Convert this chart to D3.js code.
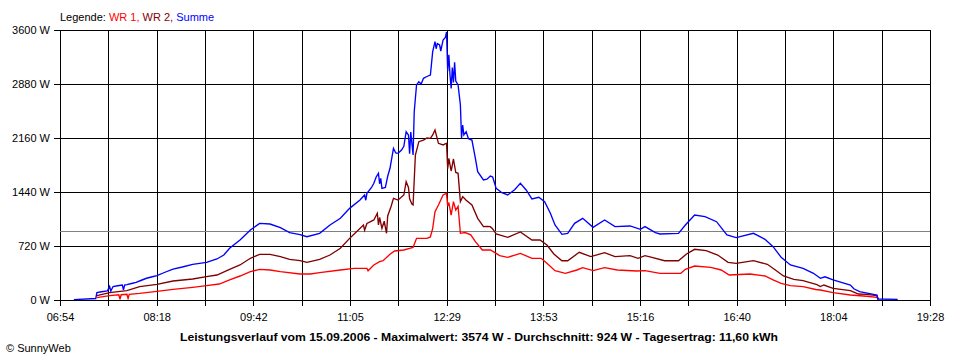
<!DOCTYPE html>
<html><head><meta charset="utf-8">
<script src="https://cdn.jsdelivr.net/npm/d3@7"></script>
<style>
body{margin:0;background:#fff}
svg{display:block}
text{font-family:"Liberation Sans",Arial,sans-serif;font-size:11px;fill:#000}
</style>
</head><body>
<svg id="c" width="960" height="360"></svg>
<script>
const startTime = "06:54", endTime = "19:28";
const xTickLabels = ["06:54","08:18","09:42","11:05","12:29","13:53","15:16","16:40","18:04","19:28"];
const yTickValues = [0, 720, 1440, 2160, 2880, 3600];
const average = 924;
const legendItems = ["WR 1", "WR 2", "Summe"];
const titleText = "Leistungsverlauf vom 15.09.2006 - Maximalwert: 3574 W - Durchschnitt: 924 W - Tagesertrag: 11,60 kWh";
const footerText = "© SunnyWeb";

const summe = [
 ["07:06",5],["07:25",20],["07:26",100],["07:30",110],["07:35",120],["07:37",180],["07:38",120],["07:40",180],
 ["07:44",190],["07:48",200],["07:49",135],["07:50",200],["07:52",205],["07:56",220],["08:00",235],["08:04",260],
 ["08:09",290],["08:14",310],["08:18",325],["08:25",370],["08:32",413],["08:40",440],["08:49",475],["09:01",502],
 ["09:10",547],["09:16",600],["09:21",689],["09:30",800],["09:39",933],["09:47",1022],["09:56",1013],["10:05",964],
 ["10:13",898],["10:22",871],["10:28",844],["10:39",889],["10:48",1000],["10:57",1089],["11:05",1222],["11:14",1333],
 ["11:18",1400],["11:19",1330],["11:20",1422],["11:24",1500],["11:26",1556],["11:28",1640],["11:30",1689],["11:31",1550],
 ["11:32",1622],["11:33",1489],["11:36",1500],["11:38",1650],["11:40",1756],["11:43",2022],["11:45",1960],["11:47",1956],
 ["11:50",2000],["11:52",2050],["11:54",2244],["11:56",2200],["11:57",1950],["11:58",2240],["12:00",1933],["12:01",2511],
 ["12:03",2867],["12:05",2911],["12:07",2880],["12:09",2956],["12:12",2980],["12:15",3000],["12:17",3311],["12:19",3444],
 ["12:20",3350],["12:21",3420],["12:23",3400],["12:24",3320],["12:26",3467],["12:28",3500],["12:29",3574],["12:30",3050],
 ["12:31",3270],["12:32",3000],["12:33",2822],["12:34",3100],["12:35",2900],["12:36",3170],["12:37",2920],["12:39",2867],
 ["12:41",2600],["12:42",2156],["12:43",2333],["12:44",2200],["12:46",2244],["12:48",2150],["12:51",2133],["12:54",1889],
 ["12:56",1711],["13:01",1600],["13:04",1610],["13:07",1653],["13:09",1640],["13:12",1489],["13:17",1430],["13:22",1400],
 ["13:28",1470],["13:33",1556],["13:38",1467],["13:43",1347],["13:49",1369],["13:54",1311],["13:59",1156],["14:03",1000],
 ["14:09",876],["14:14",889],["14:20",1022],["14:27",1089],["14:36",969],["14:46",1067],["14:55",978],["15:08",987],
 ["15:17",942],["15:21",978],["15:30",898],["15:34",880],["15:50",889],["15:56",1000],["16:04",1133],["16:13",1111],
 ["16:23",1044],["16:32",867],["16:40",831],["16:55",889],["17:05",809],["17:12",711],["17:19",569],["17:27",467],
 ["17:38",422],["17:47",356],["17:53",289],["17:57",310],["18:04",267],["18:19",200],["18:22",150],["18:27",111],
 ["18:42",67],["18:43",13],["19:00",9]
];

const wr2 = [
 ["07:26",58],["07:37",98],["07:52",124],["08:03",178],["08:18",209],["08:32",253],["08:49",280],["09:01",311],
 ["09:10",333],["09:21",409],["09:30",467],["09:39",556],["09:47",609],["09:56",609],["10:05",578],["10:13",542],
 ["10:22",524],["10:28",502],["10:39",542],["10:48",600],["10:57",689],["11:05",822],["11:11",911],["11:17",1000],
 ["11:18",930],["11:20",1020],["11:26",1067],["11:29",1156],["11:30",1000],["11:31",1100],["11:33",956],["11:35",1050],
 ["11:37",889],["11:38",1120],["11:41",1250],["11:43",1356],["11:47",1333],["11:52",1400],["11:54",1578],["11:56",1500],
 ["11:57",1350],["11:59",1280],["12:00",1267],["12:02",1933],["12:05",2111],["12:09",2133],["12:12",2160],["12:15",2156],
 ["12:17",2200],["12:19",2267],["12:22",2089],["12:26",2067],["12:29",2090],["12:30",1750],["12:31",1889],["12:33",1720],
 ["12:35",1880],["12:37",1700],["12:39",1689],["12:41",1311],["12:43",1378],["12:46",1330],["12:51",1267],["12:56",1089],
 ["13:01",978],["13:04",980],["13:07",978],["13:09",947],["13:12",880],["13:22",836],["13:33",907],["13:43",800],
 ["13:50",800],["13:56",733],["14:02",613],["14:09",524],["14:14",524],["14:24",636],["14:34",578],["14:46",631],
 ["14:55",578],["15:08",591],["15:15",556],["15:21",591],["15:27",569],["15:38",524],["15:50",524],["15:57",613],
 ["16:04",676],["16:14",658],["16:24",600],["16:33",502],["16:40",489],["16:55",524],["17:07",476],["17:14",400],
 ["17:21",320],["17:30",276],["17:38",258],["17:50",205],["17:53",180],["17:56",200],["18:04",156],["18:19",124],
 ["18:26",80],["18:33",75],["18:42",58],["18:43",10]
];

const wr1 = [
 ["07:26",31],["07:37",58],["07:45",70],["07:46",10],["07:47",70],["07:52",76],["07:53",20],["07:54",76],["08:03",89],
 ["08:18",116],["08:32",142],["08:49",169],["09:01",191],["09:12",213],["09:21",267],["09:30",320],["09:39",378],
 ["09:47",409],["09:56",400],["10:05",378],["10:22",347],["10:31",347],["10:39",364],["10:57",400],["11:09",422],
 ["11:20",422],["11:21",390],["11:26",467],["11:31",511],["11:34",524],["11:40",610],["11:44",653],["11:52",667],
 ["11:57",689],["12:00",700],["12:03",822],["12:12",822],["12:15",840],["12:17",956],["12:19",1178],["12:22",1267],
 ["12:26",1400],["12:29",1422],["12:30",1250],["12:31",1300],["12:33",1133],["12:35",1311],["12:37",1200],["12:39",1250],
 ["12:41",889],["12:45",900],["12:50",870],["12:54",778],["13:00",667],["13:07",667],["13:12",622],["13:15",591],
 ["13:22",569],["13:33",622],["13:43",556],["13:51",556],["13:56",489],["14:03",391],["14:12",356],["14:22",400],
 ["14:27",431],["14:36",391],["14:46",431],["14:57",400],["15:14",387],["15:21",391],["15:34",356],["15:52",356],
 ["15:56",409],["16:04",453],["16:18",436],["16:27",400],["16:34",333],["16:52",347],["17:05",320],["17:12",267],
 ["17:19",222],["17:27",191],["17:38",178],["17:49",140],["17:53",133],["18:04",98],["18:19",67],["18:33",50],
 ["18:42",36],["18:43",5]
];

const colors = {wr1:"#ff0000", wr2:"#800000", summe:"#0000ff", grid:"#000000", avg:"#808080"};

const toMin = s => { const p = s.split(":").map(Number); return p[0]*60 + p[1]; };
const svg = d3.select("#c");
const t0 = toMin(startTime), t1 = toMin(endTime);
const x = d3.scaleLinear().domain([t0, t1]).range([60, 930]);
const y = d3.scaleLinear().domain([0, 3600]).range([300, 30]);

// vertical grid + x labels
const nCols = (xTickLabels.length - 1) * 2;
const xTicks = d3.range(nCols + 1).map(i => t0 + i * (t1 - t0) / nCols);
const xAxis = d3.axisBottom(x).tickValues(xTicks).tickSizeInner(-276).tickSizeOuter(0).tickPadding(7)
  .tickFormat((d, i) => i % 2 === 0 ? xTickLabels[i / 2] : "");
const gx = svg.append("g").attr("transform", "translate(0,306)").call(xAxis);
gx.select(".domain").remove();
gx.selectAll(".tick line").attr("stroke", colors.grid).attr("shape-rendering", "crispEdges");
gx.selectAll("text").attr("font-family", '"Liberation Sans",Arial,sans-serif').attr("font-size", 11).attr("fill", "#000");

// horizontal grid + y labels
const yAxis = d3.axisLeft(y).tickValues(yTickValues).tickSizeInner(-876).tickSizeOuter(0).tickPadding(4)
  .tickFormat(d => d + " W");
const gy = svg.append("g").attr("transform", "translate(54,0)").call(yAxis);
gy.select(".domain").remove();
gy.selectAll(".tick line").attr("stroke", colors.grid).attr("shape-rendering", "crispEdges");
gy.selectAll("text").attr("font-family", '"Liberation Sans",Arial,sans-serif').attr("font-size", 11).attr("fill", "#000");

// right border
svg.append("line").attr("x1", x(t1)).attr("x2", x(t1)).attr("y1", y(3600)).attr("y2", y(0))
  .attr("stroke", colors.grid).attr("shape-rendering", "crispEdges");

// average line
svg.append("line").attr("x1", x(t0)).attr("x2", x(t1)).attr("y1", Math.round(y(average)) + 0.5).attr("y2", Math.round(y(average)) + 0.5)
  .attr("stroke", colors.avg).attr("stroke-width", 1);

const line = d3.line().x(d => x(toMin(d[0]))).y(d => y(d[1]));
[[wr1, colors.wr1], [wr2, colors.wr2], [summe, colors.summe]].forEach(([data, c]) => {
  svg.append("path").datum(data).attr("d", line).attr("fill", "none").attr("stroke", c).attr("stroke-width", 1.35)
    .attr("stroke-linejoin", "miter");
});

// legend
const lg = svg.append("text").attr("x", 60).attr("y", 21);
lg.append("tspan").text("Legende: ");
lg.append("tspan").attr("fill", colors.wr1).text(legendItems[0]);
lg.append("tspan").attr("fill", colors.wr1).text(", ");
lg.append("tspan").attr("fill", colors.wr2).text(legendItems[1]);
lg.append("tspan").attr("fill", colors.wr2).text(", ");
lg.append("tspan").attr("fill", colors.summe).text(legendItems[2]);

// title
const tt = svg.append("text").attr("x", 479).attr("y", 341).attr("text-anchor", "middle")
  .attr("font-weight", "bold").text(titleText);
const tw = tt.node().getComputedTextLength();
if (Math.abs(tw - 598) > 6) tt.attr("textLength", 598).attr("lengthAdjust", "spacingAndGlyphs");

svg.append("text").attr("x", 6).attr("y", 352).text(footerText);
</script>
</body></html>
